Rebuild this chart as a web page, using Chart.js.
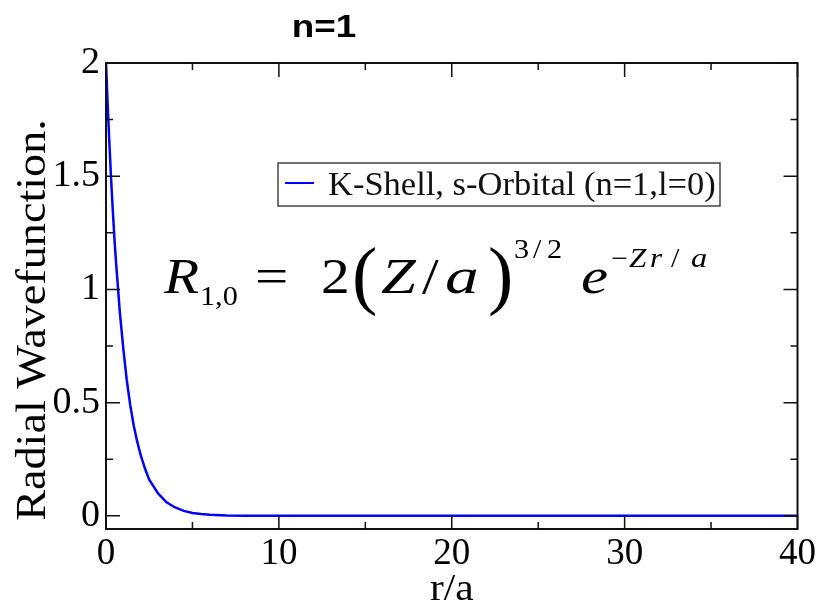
<!DOCTYPE html>
<html>
<head>
<meta charset="utf-8">
<script src="https://cdn.jsdelivr.net/npm/chart.js@4/dist/chart.umd.min.js"></script>
<style>
html,body{margin:0;padding:0;background:#fff;}
#wrap{width:819px;height:606px;}
</style>
</head>
<body>
<div id="wrap"><canvas id="c" width="819" height="606"></canvas></div>
<script>
// ---- data ----
const chartTitle = 'n=1';
const seriesLabel = 'K-Shell, s-Orbital (n=1,l=0)';
const xAxisTitle = 'r/a';
const yAxisTitle = 'Radial Wavefunction.';
const rValues   = [0, 0.1, 0.2, 0.3, 0.4, 0.5, 0.6, 0.8, 1.0, 1.2, 1.4, 1.6, 1.8, 2.0, 2.25, 2.5, 2.75, 3.0, 3.5, 4.0, 4.5, 5.0, 5.5, 6.0, 7.0, 8.0, 10, 15, 20, 25, 30, 35, 40];
const psiValues = [2.00, 1.81, 1.64, 1.48, 1.34, 1.21, 1.10, 0.90, 0.74, 0.60, 0.49, 0.40, 0.33, 0.27, 0.21, 0.16, 0.13, 0.10, 0.060, 0.037, 0.022, 0.013, 0.008, 0.005, 0.002, 0.0007, 0, 0, 0, 0, 0, 0, 0];
const xTickValues = [0, 10, 20, 30, 40];
const xMinorTicks = [5, 15, 25, 35];
const yTickValues = [0, 0.5, 1, 1.5, 2];
const yMinorTicks = [0.25, 0.75, 1.25, 1.75];

const SERIF = '"Liberation Serif", "Times New Roman", serif';
const SANS = '"Liberation Sans", Arial, sans-serif';

function drawScaled(ctx, text, x, y, font, sx, align) {
  ctx.save();
  ctx.translate(x, y);
  ctx.scale(sx || 1, 1);
  ctx.font = font;
  ctx.textAlign = align || 'left';
  ctx.textBaseline = 'alphabetic';
  ctx.fillText(text, 0, 0);
  ctx.restore();
}

const deco = {
  id: 'deco',
  afterDatasetsDraw(chart) {
    const ctx = chart.ctx;
    const a = chart.chartArea;
    const xs = chart.scales.x, ys = chart.scales.y;
    ctx.save();
    // frame
    ctx.strokeStyle = '#111';
    ctx.lineWidth = 2;
    ctx.strokeRect(a.left, a.top, a.right - a.left, a.bottom - a.top);
    // inward ticks
    ctx.lineWidth = 1.5;
    ctx.beginPath();
    const tk = (list, len) => {
      list.forEach(v => {
        const px = xs.getPixelForValue(v);
        ctx.moveTo(px, a.bottom); ctx.lineTo(px, a.bottom - len);
        ctx.moveTo(px, a.top); ctx.lineTo(px, a.top + len);
      });
    };
    const tky = (list, len) => {
      list.forEach(v => {
        const py = ys.getPixelForValue(v);
        ctx.moveTo(a.left, py); ctx.lineTo(a.left + len, py);
        ctx.moveTo(a.right, py); ctx.lineTo(a.right - len, py);
      });
    };
    tk(xTickValues, 14); tk(xMinorTicks, 7);
    tky(yTickValues, 14); tky(yMinorTicks, 7);
    ctx.stroke();

    ctx.fillStyle = '#000';
    // title
    drawScaled(ctx, chartTitle, 324, 37, 'bold 32px ' + SANS, 1.15, 'center');
    // x axis title
    drawScaled(ctx, xAxisTitle, (a.left + a.right) / 2, 600, '37px ' + SERIF, 1.12, 'center');
    // y axis title
    ctx.save();
    ctx.translate(45, 320);
    ctx.rotate(-Math.PI / 2);
    drawScaled(ctx, yAxisTitle, 0, 0, '42px ' + SERIF, 1.1, 'center');
    ctx.restore();

    // legend box
    const ds = chart.data.datasets[0];
    ctx.fillStyle = '#fff';
    ctx.fillRect(278, 163, 442, 43);
    ctx.strokeStyle = '#444';
    ctx.lineWidth = 1.5;
    ctx.strokeRect(278, 163, 442, 43);
    ctx.strokeStyle = ds.borderColor;
    ctx.lineWidth = 2;
    ctx.beginPath(); ctx.moveTo(285, 183); ctx.lineTo(314, 183); ctx.stroke();
    ctx.fillStyle = '#111';
    drawScaled(ctx, ds.label, 328, 195, '34px ' + SERIF, 1.015, 'left');

    // formula  R_{1,0} = 2(Z/a)^{3/2} e^{-Zr/a}
    ctx.fillStyle = '#000';
    const M = '50px ' + SERIF, MI = 'italic 50px ' + SERIF;
    const P = '76px ' + SERIF;
    const S = '27px ' + SERIF, SI = 'italic 27px ' + SERIF;
    drawScaled(ctx, 'R', 164, 293, MI, 1.15);
    drawScaled(ctx, '1,0', 200, 305, '28px ' + SERIF, 1.08);
    drawScaled(ctx, '=', 255, 293, M, 1.18);
    drawScaled(ctx, '2', 321, 293, M, 1.15);
    drawScaled(ctx, '(', 352, 300, P, 1.0);
    drawScaled(ctx, 'Z', 381, 293, MI, 1.25);
    drawScaled(ctx, '/', 422, 293, M, 1.2);
    drawScaled(ctx, 'a', 445, 293, MI, 1.35);
    drawScaled(ctx, ')', 488, 300, P, 1.0);
    drawScaled(ctx, '3', 514, 258, S, 1.12);
    drawScaled(ctx, '/', 533, 258, S, 1.12);
    drawScaled(ctx, '2', 547, 258, S, 1.12);
    drawScaled(ctx, 'e', 581, 293, MI, 1.22);
    drawScaled(ctx, '\u2212', 611, 267, S, 1.1);
    drawScaled(ctx, 'Z', 629, 267, SI, 1.15);
    drawScaled(ctx, 'r', 650, 267, SI, 1.15);
    drawScaled(ctx, '/', 671, 267, S, 1.12);
    drawScaled(ctx, 'a', 691, 267, SI, 1.2);
    ctx.restore();
  }
};

const points = rValues.map((r, i) => ({ x: r, y: psiValues[i] }));

new Chart(document.getElementById('c'), {
  type: 'line',
  data: {
    datasets: [{
      label: seriesLabel,
      data: points,
      borderColor: '#0000ff',
      backgroundColor: '#0000ff',
      borderWidth: 2.5,
      pointRadius: 0,
      tension: 0,
      fill: false
    }]
  },
  options: {
    responsive: false,
    animation: false,
    devicePixelRatio: 1,
    layout: { padding: { top: 63, right: 20, left: 0, bottom: 0 } },
    plugins: { legend: { display: false }, title: { display: false }, tooltip: { enabled: false } },
    scales: {
      x: {
        type: 'linear', min: 0, max: 40,
        afterFit(s) { s.height = 77; },
        afterBuildTicks(s) { s.ticks = xTickValues.map(v => ({ value: v })); },
        grid: { display: false, drawTicks: false },
        border: { display: false },
        ticks: { color: '#000', padding: 3, maxRotation: 0, font: { family: SERIF, size: 37 }, callback: v => String(v) }
      },
      y: {
        type: 'linear', min: -0.058, max: 2,
        afterFit(s) { s.width = 106; },
        afterBuildTicks(s) { s.ticks = yTickValues.map(v => ({ value: v })); },
        grid: { display: false, drawTicks: false },
        border: { display: false },
        ticks: { color: '#000', padding: 6, font: { family: SERIF, size: 38 }, callback: v => String(v) }
      }
    }
  },
  plugins: [deco]
});
</script>
</body>
</html>
